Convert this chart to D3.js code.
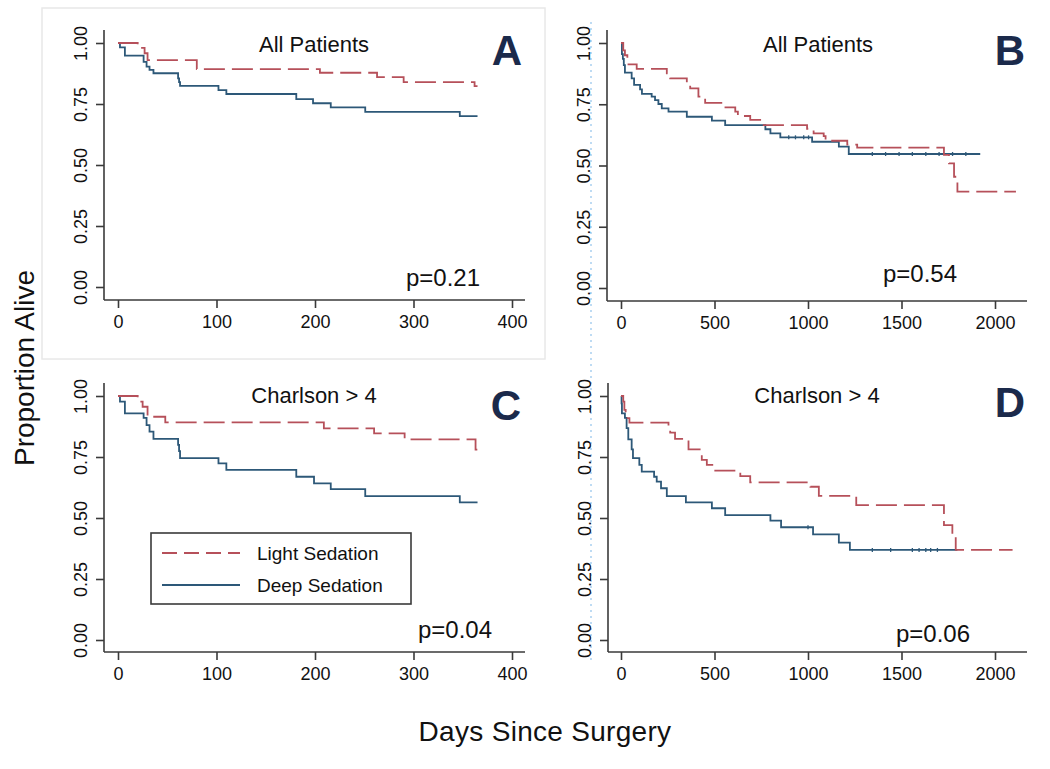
<!DOCTYPE html>
<html><head><meta charset="utf-8">
<script src="https://cdn.jsdelivr.net/npm/d3@7"></script>
<style>
body{margin:0;background:#fff}
svg{display:block}
text{font-family:"Liberation Sans",Arial,Helvetica,sans-serif;fill:#111}
</style>
</head><body>
<svg id="chart" width="1050" height="769"></svg>
<script>
// ---------------- DATA ----------------
const yTickValues = [0, 0.25, 0.5, 0.75, 1];
const yTickLabels = ["0.00", "0.25", "0.50", "0.75", "1.00"];
const xTicksShort = [0, 100, 200, 300, 400];
const xTicksLong = [0, 500, 1000, 1500, 2000];
const seriesNames = ["Light Sedation", "Deep Sedation"];
const panelLetters = ["A", "B", "C", "D"];
const panelTitles = ["All Patients", "All Patients", "Charlson > 4", "Charlson > 4"];
const pValues = ["p=0.21", "p=0.54", "p=0.04", "p=0.06"];
const xAxisTitle = "Days Since Surgery";
const yAxisTitle = "Proportion Alive";

// Kaplan-Meier steps: [day, proportion alive]
const lightA = [[0,1],[20,0.98],[27,0.958],[30,0.93],[80,0.893],[205,0.878],[263,0.86],[290,0.84],[362,0.823],[365,0.823]];
const deepA  = [[0,1],[2,0.982],[7,0.948],[26,0.923],[29,0.903],[32,0.89],[36,0.876],[61,0.855],[62,0.84],[63,0.824],[102,0.807],[110,0.791],[181,0.77],[198,0.753],[216,0.736],[251,0.718],[347,0.70],[365,0.70]];

const lightB = [[0,1],[12,0.97],[21,0.95],[34,0.93],[40,0.913],[84,0.894],[245,0.876],[263,0.856],[352,0.836],[370,0.815],[414,0.781],[450,0.756],[548,0.737],[611,0.72],[625,0.702],[691,0.686],[763,0.665],[995,0.65],[1030,0.631],[1084,0.62],[1094,0.601],[1210,0.585],[1263,0.573],[1727,0.543],[1754,0.509],[1781,0.454],[1799,0.393],[2112,0.393]];
const deepB  = [[0,1],[5,0.955],[10,0.935],[15,0.91],[21,0.879],[57,0.856],[70,0.829],[102,0.811],[112,0.792],[164,0.781],[182,0.767],[200,0.751],[218,0.733],[254,0.72],[352,0.699],[486,0.683],[557,0.665],[772,0.648],[799,0.631],[852,0.615],[1022,0.597],[1165,0.577],[1218,0.547],[1921,0.547]];
const censorB = [897,933,977,1003,1344,1415,1487,1558,1630,1701,1773,1844];

const lightC = [[0,1],[20,0.977],[25,0.956],[30,0.915],[48,0.892],[209,0.867],[260,0.847],[291,0.822],[363,0.78],[365,0.78]];
const deepC  = [[0,1],[2,0.977],[7,0.929],[26,0.91],[29,0.881],[32,0.854],[36,0.824],[61,0.80],[62,0.774],[63,0.745],[102,0.724],[110,0.697],[181,0.669],[199,0.642],[216,0.618],[251,0.59],[347,0.564],[365,0.564]];

const lightD = [[0,1],[12,0.977],[18,0.943],[25,0.909],[45,0.891],[254,0.868],[263,0.85],[289,0.824],[361,0.781],[432,0.738],[459,0.718],[504,0.694],[638,0.672],[691,0.646],[1013,0.628],[1058,0.591],[1258,0.553],[1727,0.471],[1772,0.43],[1790,0.369],[2094,0.369]];
const deepD  = [[0,1],[3,0.97],[5,0.929],[21,0.91],[30,0.868],[39,0.822],[57,0.781],[64,0.745],[98,0.718],[111,0.69],[177,0.669],[191,0.649],[214,0.622],[245,0.59],[347,0.564],[486,0.54],[557,0.512],[799,0.489],[856,0.462],[1027,0.433],[1165,0.399],[1224,0.369],[1799,0.369]];
const censorD = [1000,1344,1442,1558,1594,1630,1656,1692];

// ---------------- LAYOUT ----------------
const LIGHT = "#b6505a", DEEP = "#2d5878", AXIS = "#3a3a3a", LETTER = "#1b2a4b";
const panels = [
  {light:lightA, deep:deepA, censor:[], xTicks:xTicksShort, xDom:[0,400], xRng:[118,512], yRng:[287,43], axX:104, axY:300, top:30, right:525,
   tx:314, ty:52, lx:507, ly:65, px:480, py:286},
  {light:lightB, deep:deepB, censor:censorB, xTicks:xTicksLong, xDom:[0,2000], xRng:[621,995], yRng:[288,43], axX:607, axY:301, top:30, right:1027,
   tx:818, ty:52, lx:1010, ly:65, px:957, py:282},
  {light:lightC, deep:deepC, censor:[], xTicks:xTicksShort, xDom:[0,400], xRng:[118,512], yRng:[640,396], axX:104, axY:652, top:383, right:525,
   tx:314, ty:403, lx:506, ly:420, px:492, py:638},
  {light:lightD, deep:deepD, censor:censorD, xTicks:xTicksLong, xDom:[0,2000], xRng:[621,995], yRng:[640,396], axX:608, axY:652, top:383, right:1027,
   tx:817, ty:403, lx:1010, ly:417, px:970, py:642}
];

const svg = d3.select("#chart");

// faint frame around panel A and dotted edge near panel B (as in source image)
svg.append("rect").attr("x",42).attr("y",8).attr("width",503).attr("height",351)
  .attr("fill","none").attr("stroke","#e8e8e8").attr("stroke-width",1.5);
svg.append("line").attr("x1",591).attr("x2",591).attr("y1",22).attr("y2",662)
  .attr("stroke","#a9d0ef").attr("stroke-width",1.5).attr("stroke-dasharray","2,4");

function stepAt(data, t){
  let v = data[0][1];
  for (const d of data){ if (d[0] <= t) v = d[1]; }
  return v;
}

panels.forEach((p, i) => {
  const x = d3.scaleLinear().domain(p.xDom).range(p.xRng);
  const y = d3.scaleLinear().domain([0,1]).range(p.yRng);
  const g = svg.append("g");

  // axes lines
  g.append("line").attr("x1",p.axX).attr("x2",p.axX).attr("y1",p.top).attr("y2",p.axY)
    .attr("stroke",AXIS).attr("stroke-width",1.6);
  g.append("line").attr("x1",p.axX).attr("x2",p.right).attr("y1",p.axY).attr("y2",p.axY)
    .attr("stroke",AXIS).attr("stroke-width",1.6);

  // y axis
  const ya = g.append("g").attr("transform",`translate(${p.axX},0)`)
    .call(d3.axisLeft(y).tickValues(yTickValues).tickSize(8).tickFormat((d,k)=>yTickLabels[k]));
  ya.select(".domain").remove();
  ya.selectAll(".tick line").attr("stroke",AXIS).attr("stroke-width",1.6);
  ya.selectAll(".tick text").attr("font-size",18).attr("fill","#111")
    .attr("text-anchor","middle").attr("x",0).attr("dy",0)
    .attr("transform","translate(-17,0) rotate(-90)");

  // x axis
  const xa = g.append("g").attr("transform",`translate(0,${p.axY})`)
    .call(d3.axisBottom(x).tickValues(p.xTicks).tickSize(8).tickFormat(d3.format("d")));
  xa.select(".domain").remove();
  xa.selectAll(".tick line").attr("stroke",AXIS).attr("stroke-width",1.6);
  xa.selectAll(".tick text").attr("font-size",18).attr("fill","#111").attr("y",28).attr("dy",0);

  // curves
  const line = d3.line().x(d=>x(d[0])).y(d=>y(d[1])).curve(d3.curveStepAfter);
  g.append("path").datum(p.deep).attr("d",line).attr("fill","none")
    .attr("stroke",DEEP).attr("stroke-width",1.8);
  g.append("path").datum(p.light).attr("d",line).attr("fill","none")
    .attr("stroke",LIGHT).attr("stroke-width",1.8).attr("stroke-dasharray","21,7");

  // censor marks
  g.selectAll(".cens").data(p.censor).enter().append("line")
    .attr("x1",d=>x(d)).attr("x2",d=>x(d))
    .attr("y1",d=>y(stepAt(p.deep,d))-2).attr("y2",d=>y(stepAt(p.deep,d))+2)
    .attr("stroke",DEEP).attr("stroke-width",1.3);

  // texts
  g.append("text").attr("x",p.tx).attr("y",p.ty).attr("text-anchor","middle")
    .attr("font-size",22).text(panelTitles[i]);
  g.append("text").attr("x",p.lx).attr("y",p.ly).attr("text-anchor","middle")
    .attr("font-size",42).attr("font-weight","bold").style("fill",LETTER).text(panelLetters[i]);
  g.append("text").attr("x",p.px).attr("y",p.py).attr("text-anchor","end")
    .attr("font-size",24).text(pValues[i]);
});

// legend (inside panel C)
const lg = svg.append("g");
lg.append("rect").attr("x",151).attr("y",533).attr("width",260).attr("height",71)
  .attr("fill","#fff").attr("stroke",AXIS).attr("stroke-width",1.6);
const legendRows = [
  {name:seriesNames[0], color:LIGHT, dash:"15,7", y:553},
  {name:seriesNames[1], color:DEEP, dash:null, y:585}
];
legendRows.forEach(r => {
  lg.append("line").attr("x1",162).attr("x2",240).attr("y1",r.y).attr("y2",r.y)
    .attr("stroke",r.color).attr("stroke-width",1.8).attr("stroke-dasharray",r.dash);
  lg.append("text").attr("x",257).attr("y",r.y+7).attr("font-size",19).text(r.name);
});

// axis titles
svg.append("text").attr("x",545).attr("y",741).attr("text-anchor","middle")
  .attr("font-size",28).attr("letter-spacing","0.3px").text(xAxisTitle);
svg.append("text").attr("transform","translate(34,368) rotate(-90)").attr("text-anchor","middle")
  .attr("font-size",28).text(yAxisTitle);
</script>
</body></html>
